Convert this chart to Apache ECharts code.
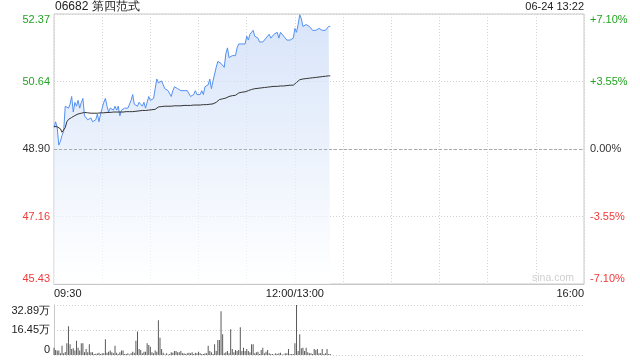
<!DOCTYPE html>
<html><head><meta charset="utf-8">
<script src="https://cdn.jsdelivr.net/npm/echarts@6/dist/echarts.min.js"></script>
<style>html,body{margin:0;padding:0;background:#fff}#c{width:640px;height:360px}</style>
</head><body><div id="c"></div>
<script>
const titleText = '06682 第四范式';
const stampText = '06-24 13:22';
const prevClose = 48.90;
const priceMin = 45.43, priceMax = 52.37;
const volMax = 32.89;
const priceTicks = ['45.43', '47.16', '48.90', '50.64', '52.37'];
const pctTicks = ['-7.10%', '-3.55%', '0.00%', '+3.55%', '+7.10%'];
const volTicks = ['0', '16.45万', '32.89万'];
const timeTicks = { 0: '09:30', 150: '12:00/13:00', 330: '16:00' };

const price = [
49.45,49.60,49.45,49.00,49.10,49.25,49.35,50.00,49.95,49.95,
50.05,50.25,49.85,50.10,50.00,50.15,49.95,50.10,50.20,49.75,
49.70,49.65,49.60,49.70,49.60,49.65,49.65,49.80,49.60,49.80,
49.95,50.10,50.20,50.00,49.85,49.95,50.00,49.90,50.00,49.90,
50.00,49.75,49.90,49.85,49.95,49.90,49.95,50.00,50.15,50.30,
50.05,50.00,50.00,50.10,50.10,50.00,50.10,49.95,50.10,50.25,
50.15,50.10,50.20,50.45,50.70,50.60,50.60,50.65,50.55,50.45,
50.50,50.40,50.45,50.25,50.40,50.50,50.45,50.45,50.45,50.40,
50.40,50.40,50.45,50.40,50.35,50.25,50.25,50.30,50.40,50.30,
50.35,50.30,50.40,50.30,50.50,50.55,50.55,50.70,50.45,50.65,
50.70,51.00,51.15,51.15,51.10,51.05,51.00,51.35,51.50,51.25,
51.25,51.30,51.30,51.30,51.50,51.60,51.65,51.60,51.60,51.60,
51.80,51.70,51.85,51.90,51.95,51.80,51.80,51.75,51.65,51.60,
51.65,51.65,51.75,51.80,51.85,51.75,51.80,51.85,51.80,51.90,
51.75,51.90,51.85,51.80,51.75,51.70,51.75,51.70,51.75,51.75,
52.00,51.90,52.10,52.35,52.25,52.05,52.10,52.10,52.05,52.05,
52.10,51.95,51.95,51.95,52.00,52.00,52.00,51.95,51.90,51.95,
52.00,52.05,52.05
];

const avg = [
49.48,49.48,49.47,49.45,49.42,49.33,49.30,49.45,49.60,49.66,
49.69,49.71,49.73,49.76,49.78,49.80,49.81,49.82,49.83,49.84,
49.84,49.83,49.83,49.82,49.82,49.82,49.82,49.82,49.82,49.83,
49.83,49.83,49.84,49.84,49.84,49.84,49.84,49.85,49.85,49.85,
49.85,49.85,49.85,49.85,49.86,49.86,49.86,49.86,49.86,49.86,
49.87,49.87,49.88,49.88,49.88,49.89,49.89,49.89,49.90,49.90,
49.90,49.91,49.91,49.92,49.96,49.98,49.99,49.99,50.00,50.00,
50.00,50.00,50.00,50.00,50.01,50.01,50.01,50.01,50.01,50.01,
50.01,50.02,50.02,50.02,50.02,50.02,50.02,50.03,50.03,50.03,
50.03,50.03,50.03,50.04,50.04,50.04,50.04,50.05,50.05,50.06,
50.07,50.10,50.14,50.17,50.18,50.19,50.20,50.21,50.23,50.25,
50.26,50.27,50.27,50.28,50.30,50.34,50.35,50.36,50.37,50.37,
50.38,50.40,50.41,50.43,50.44,50.45,50.46,50.46,50.47,50.47,
50.48,50.48,50.49,50.49,50.50,50.50,50.50,50.51,50.51,50.51,
50.52,50.52,50.52,50.52,50.53,50.53,50.53,50.54,50.54,50.54,
50.57,50.61,50.65,50.68,50.69,50.70,50.70,50.71,50.71,50.72,
50.72,50.73,50.73,50.74,50.74,50.75,50.75,50.76,50.76,50.77,
50.77,50.78,50.78
];

// volume in 万
const volume = [
4.8,3.3,2.9,2.9,1.1,6.1,1.1,2.0,7.7,18.9,
7.0,3.9,4.4,3.0,9.4,4.8,2.9,7.7,7.7,1.8,
3.9,1.8,7.0,1.8,1.8,0.7,0.9,1.0,1.5,0.7,
1.1,1.1,10.3,1.5,2.2,2.9,1.8,1.1,6.1,1.5,
0.7,1.8,2.9,2.9,0.7,0.7,1.1,0.4,1.1,2.2,
1.5,9.4,15.4,3.9,3.3,1.1,2.2,2.2,7.7,6.6,
5.5,1.8,1.1,2.9,2.2,22.8,11.4,3.9,1.5,0.4,
1.1,0.4,0.7,1.8,1.5,2.6,2.6,1.8,1.8,2.6,
1.1,1.1,0.7,1.1,1.5,1.1,1.8,0.7,1.5,1.1,
2.2,1.1,0.7,0.7,1.1,1.1,6.1,2.6,1.8,0.7,
7.0,2.6,9.9,9.9,28.7,13.6,1.1,1.8,2.6,1.1,
16.9,3.9,1.8,3.3,2.6,3.3,18.2,2.6,4.8,2.6,
3.9,2.6,1.8,7.0,7.0,1.1,1.8,2.2,0.7,3.3,
4.8,1.1,2.2,3.3,1.1,0.7,0.7,0.4,1.1,0.7,
1.1,1.5,0.4,0.4,1.1,1.1,3.9,0.7,0.7,0.7,
7.7,32.89,2.6,13.6,4.4,4.8,2.6,4.8,1.8,1.1,
1.1,0.7,3.9,3.3,3.9,1.1,1.1,3.9,0.7,1.1,
3.9,0.7,0.7
];

const GREEN = '#23a323', RED = '#f03a3a', DARK = '#333';
const FONT = 'Liberation Sans, Arial, sans-serif';

const chart = echarts.init(document.getElementById('c'), null, { renderer: 'canvas' });
const labelColor = (v) => { const i = Math.round(v); return i > 2 ? GREEN : (i < 2 ? RED : DARK); };

const option = {
  animation: false,
  textStyle: { fontFamily: FONT },
  grid: [
    { left: 54, right: 56, top: 14, height: 270, show: true, borderColor: '#c8c8c8', borderWidth: 1, containLabel: false },
    { left: 54, right: 56, top: 305, height: 50, containLabel: false }
  ],
  graphic: [
    { type: 'text', left: 55, top: 1, style: { text: titleText, fill: '#222', font: '12px ' + FONT } },
    { type: 'text', right: 56, top: 1, style: { text: stampText, fill: '#222', font: '11px ' + FONT } },
    { type: 'text', left: 532, top: 273, style: { text: 'sina.com', fill: '#cfcfcf', font: '10.5px ' + FONT } }
  ],
  xAxis: [
    { type: 'value', gridIndex: 0, min: 0, max: 330, interval: 30,
      axisLine: { show: true, lineStyle: { color: '#c8c8c8' } }, axisTick: { show: false },
      splitLine: { show: true, lineStyle: { color: '#d4d4d4', type: [1, 2] } },
      axisLabel: { show: true, margin: 4, fontSize: 11, color: '#222', fontFamily: FONT,
        showMinLabel: true, showMaxLabel: true, alignMinLabel: 'left', alignMaxLabel: 'right',
        formatter: (v) => timeTicks[v] || '' } },
    { type: 'value', gridIndex: 1, min: 0, max: 330, interval: 30,
      axisLine: { show: false }, axisTick: { show: false }, splitLine: { show: false }, axisLabel: { show: false } }
  ],
  yAxis: [
    { type: 'value', gridIndex: 0, position: 'left', min: 0, max: 4, interval: 1,
      axisLine: { show: false }, axisTick: { show: false },
      splitLine: { show: true, lineStyle: { color: '#d0d0d0', type: [1, 2] } },
      axisLabel: { margin: 4, fontSize: 11, fontFamily: FONT, color: labelColor,
        verticalAlignMinLabel: 'bottom', verticalAlignMaxLabel: 'top',
        formatter: (v) => priceTicks[Math.round(v)] } },
    { type: 'value', gridIndex: 0, position: 'right', min: 0, max: 4, interval: 1,
      axisLine: { show: false }, axisTick: { show: false }, splitLine: { show: false },
      axisLabel: { margin: 6, fontSize: 11, fontFamily: FONT, color: labelColor,
        verticalAlignMinLabel: 'bottom', verticalAlignMaxLabel: 'top',
        formatter: (v) => pctTicks[Math.round(v)] } },
    { type: 'value', gridIndex: 0, min: priceMin, max: priceMax, show: false, splitLine: { show: false } },
    { type: 'value', gridIndex: 1, min: 0, max: volMax, show: false, splitLine: { show: false } },
    { type: 'value', gridIndex: 1, position: 'left', min: 0, max: 2, interval: 1,
      axisLine: { show: true, lineStyle: { color: '#c8c8c8' } }, axisTick: { show: false },
      splitLine: { show: true, lineStyle: { color: '#d0d0d0', type: [1, 2] } },
      axisLabel: { margin: 4, fontSize: 11, fontFamily: FONT, color: '#222',
        verticalAlignMinLabel: 'bottom', verticalAlignMaxLabel: 'top',
        formatter: (v) => volTicks[Math.round(v)] } }
  ],
  series: [
    { type: 'line', xAxisIndex: 0, yAxisIndex: 2, data: price.map((v, i) => [i, v]),
      symbol: 'none', lineStyle: { color: '#5490f0', width: 1 },
      areaStyle: { origin: 'start', color: new echarts.graphic.LinearGradient(0, 0, 0, 1, [
        { offset: 0, color: '#c6d8f6' }, { offset: 1, color: '#ffffff' }]) },
      markLine: { silent: true, symbol: 'none', label: { show: false },
        lineStyle: { color: '#aaaaaa', type: [3, 2], width: 1 }, data: [{ yAxis: prevClose }] },
      z: 3 },
    { type: 'line', xAxisIndex: 0, yAxisIndex: 2, data: avg.map((v, i) => [i, v]),
      symbol: 'none', lineStyle: { color: '#333', width: 1 }, z: 4 },
    { type: 'bar', xAxisIndex: 1, yAxisIndex: 3, data: volume.map((v, i) => [i, v]),
      barWidth: 1, itemStyle: { color: '#5a5a5a' } }
  ]
};
chart.setOption(option);
</script>
</body></html>
